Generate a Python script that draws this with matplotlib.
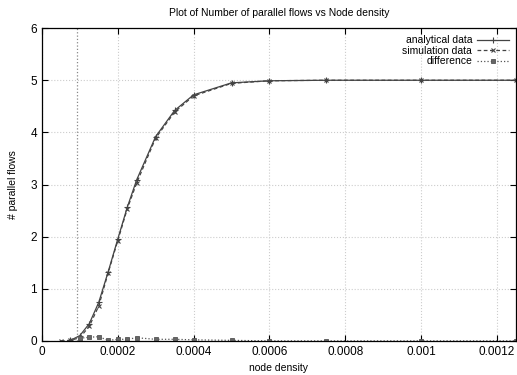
import matplotlib.pyplot as plt
import numpy as np

plt.rcParams['font.family'] = ['Liberation Sans', 'DejaVu Sans']

# densidade de nos (eixo x)
densidade = [0.00005, 0.000075, 0.0001, 0.000125, 0.00015, 0.000175, 0.0002,
             0.000225, 0.00025, 0.0003, 0.00035, 0.0004, 0.0005, 0.0006,
             0.00075, 0.001, 0.00125]

analitico = [0.0, 0.01, 0.10, 0.33, 0.74, 1.33, 1.95, 2.56, 3.09, 3.92,
             4.42, 4.72, 4.95, 4.99, 5.0, 5.0, 5.0]
simulacao = [0.0, 0.01, 0.06, 0.28, 0.67, 1.31, 1.92, 2.53, 3.03, 3.89,
             4.39, 4.70, 4.94, 4.99, 5.0, 5.0, 5.0]
diferenca = [0.0, 0.0, 0.05, 0.07, 0.08, 0.01, 0.03, 0.03, 0.06, 0.03,
             0.03, 0.02, 0.01, 0.0, 0.0, 0.0, 0.0]

limiar = 0.000093

fig = plt.figure(figsize=(5.17, 3.75), dpi=100)
ax = fig.add_axes([0.081, 0.091, 0.917, 0.834])

ax.plot(densidade[1:], analitico[1:], '-', color='#444444', lw=0.9,
        marker='+', ms=4.5, mew=0.8, label='analytical data')
ax.plot(densidade, simulacao, '--', color='#444444', lw=0.9,
        marker='x', ms=3.5, mew=0.8, dashes=(3, 2), label='simulation data')
ax.plot(densidade[2:], diferenca[2:], ':', color='#555555', lw=0.9,
        marker='s', ms=2.8, mew=0.6, mfc='#666666', label='difference')

ax.axvline(limiar, color='#888888', ls=':', lw=0.9)

ax.set_xlim(0, 0.00125)
ax.set_ylim(0, 6)
ax.set_xticks([0, 0.0002, 0.0004, 0.0006, 0.0008, 0.001, 0.0012])
ax.set_xticklabels(['0', '0.0002', '0.0004', '0.0006', '0.0008', '0.001', '0.0012'])
ax.set_yticks(range(7))

ax.tick_params(direction='in', top=True, right=True, labelsize=8.5, length=4, width=0.8)
ax.grid(True, color='#cccccc', ls=':', lw=0.8)
ax.set_axisbelow(True)
for s in ax.spines.values():
    s.set_linewidth(0.9)

ax.set_title('Plot of Number of parallel flows vs Node density', fontsize=7.5, pad=9)
ax.set_xlabel('node density', fontsize=7.5, labelpad=4)
ax.set_ylabel('# parallel flows', fontsize=7.5, labelpad=9)

ax.legend(loc='upper right', frameon=False, markerfirst=False, fontsize=7.5,
          handlelength=3.0, labelspacing=0.05, borderaxespad=0.3, handletextpad=0.5)

plt.savefig('out.png', dpi=100)
